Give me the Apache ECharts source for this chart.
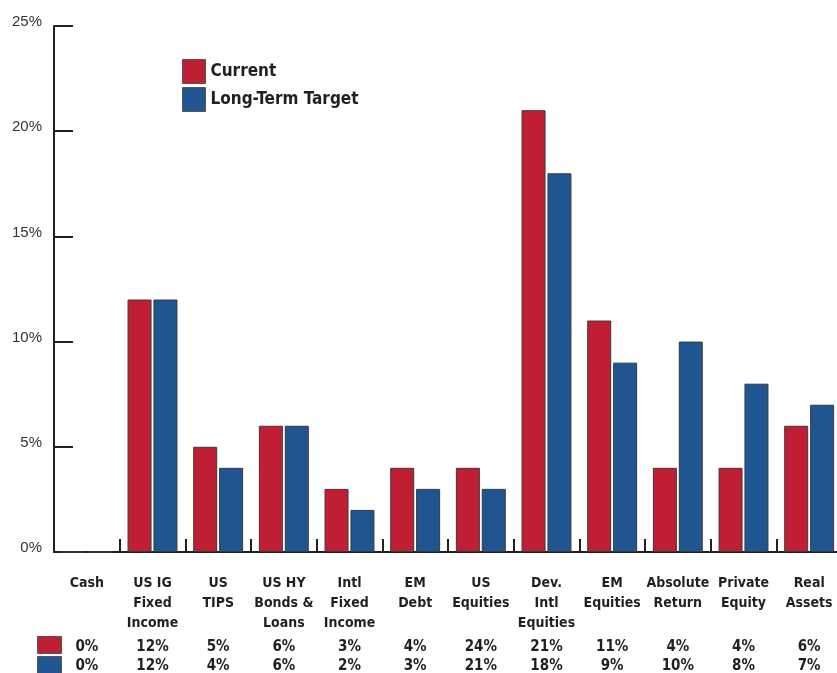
<!DOCTYPE html>
<html>
<head>
<meta charset="utf-8">
<script src="https://cdn.jsdelivr.net/npm/echarts@6/dist/echarts.min.js"></script>
<style>html,body{margin:0;padding:0;background:#fff}#c{width:837px;height:673px}</style>
</head>
<body>
<div id="c"></div>
<script>
var categories = ["Cash", "US IG\nFixed\nIncome", "US\nTIPS", "US HY\nBonds &\nLoans", "Intl\nFixed\nIncome", "EM\nDebt", "US\nEquities", "Dev.\nIntl\nEquities", "EM\nEquities", "Absolute\nReturn", "Private\nEquity", "Real\nAssets"];
var currentBars = [0, 12, 5, 6, 3, 4, 4, 21, 11, 4, 4, 6];
var targetBars = [0, 12, 4, 6, 2, 3, 3, 18, 9, 10, 8, 7];
var currentTable = ["0%", "12%", "5%", "6%", "3%", "4%", "24%", "21%", "11%", "4%", "4%", "6%"];
var targetTable = ["0%", "12%", "4%", "6%", "2%", "3%", "21%", "18%", "9%", "10%", "8%", "7%"];
var yTicks = [0, 5, 10, 15, 20, 25];

var RED = '#C01F33', BLUE = '#1F5590', INK = '#231F20';
var COND = '"Liberation Sans Narrow", "DejaVu Sans Condensed", sans-serif';

var chart = echarts.init(document.getElementById('c'), null, {renderer: 'canvas'});

function tableAxis(arr, margin) {
  return {
    type: 'category', data: categories, gridIndex: 0, position: 'bottom',
    axisLine: {show: false}, axisTick: {show: false}, splitLine: {show: false},
    axisLabel: {
      interval: 0, margin: margin, color: INK, fontFamily: COND, fontWeight: 'bold',
      fontSize: 15, lineHeight: 20,
      formatter: function (v, i) { return arr[i]; }
    }
  };
}

function keyLegend(name, top) {
  return {
    orient: 'vertical', left: 37, top: top, padding: 0, itemWidth: 24, itemHeight: 17,
    icon: 'rect', selectedMode: false, itemStyle: {borderColor: '#555', borderWidth: 1},
    formatter: function () { return ''; },
    data: [name]
  };
}

chart.setOption({
  animation: false,
  grid: {left: 54, top: 26, bottom: 121, right: -5, containLabel: false, outerBoundsMode: 'none'},
  legend: [{
    orient: 'vertical', left: 182, top: 59, padding: 0, itemWidth: 23, itemHeight: 24, itemGap: 3,
    icon: 'rect', selectedMode: false, itemStyle: {borderColor: '#555', borderWidth: 1},
    textStyle: {color: INK, fontFamily: COND, fontWeight: 'bold', fontSize: 17},
    data: ['Current', 'Long-Term Target']
  }, keyLegend('Current', 636), keyLegend('Long-Term Target', 656)],
  xAxis: [{
    type: 'category', data: categories, gridIndex: 0,
    axisLine: {lineStyle: {color: INK, width: 2}},
    axisTick: {show: true, inside: true, length: 13, lineStyle: {color: INK, width: 2}},
    axisLabel: {interval: 0, margin: 21, color: INK, fontFamily: COND, fontWeight: 'bold', fontSize: 14, lineHeight: 20}
  }, tableAxis(currentTable, 85), tableAxis(targetTable, 104)],
  yAxis: {
    type: 'value', min: yTicks[0], max: yTicks[yTicks.length - 1], interval: 5,
    axisLine: {show: true, lineStyle: {color: INK, width: 2}},
    axisTick: {show: true, inside: true, length: 19, lineStyle: {color: INK, width: 2}},
    splitLine: {show: false},
    axisLabel: {margin: 12, color: '#333', fontFamily: '"Liberation Sans", Arial, sans-serif', fontSize: 15,
      verticalAlign: 'bottom', lineHeight: 8, formatter: '{value}%'}
  },
  series: [{
    name: 'Current', type: 'bar', data: currentBars, barWidth: 24, barGap: '8%',
    itemStyle: {color: RED, borderColor: '#3a3a3a', borderWidth: 1}
  }, {
    name: 'Long-Term Target', type: 'bar', data: targetBars, barWidth: 24,
    itemStyle: {color: BLUE, borderColor: '#3a3a3a', borderWidth: 1}
  }]
});
</script>
</body>
</html>
